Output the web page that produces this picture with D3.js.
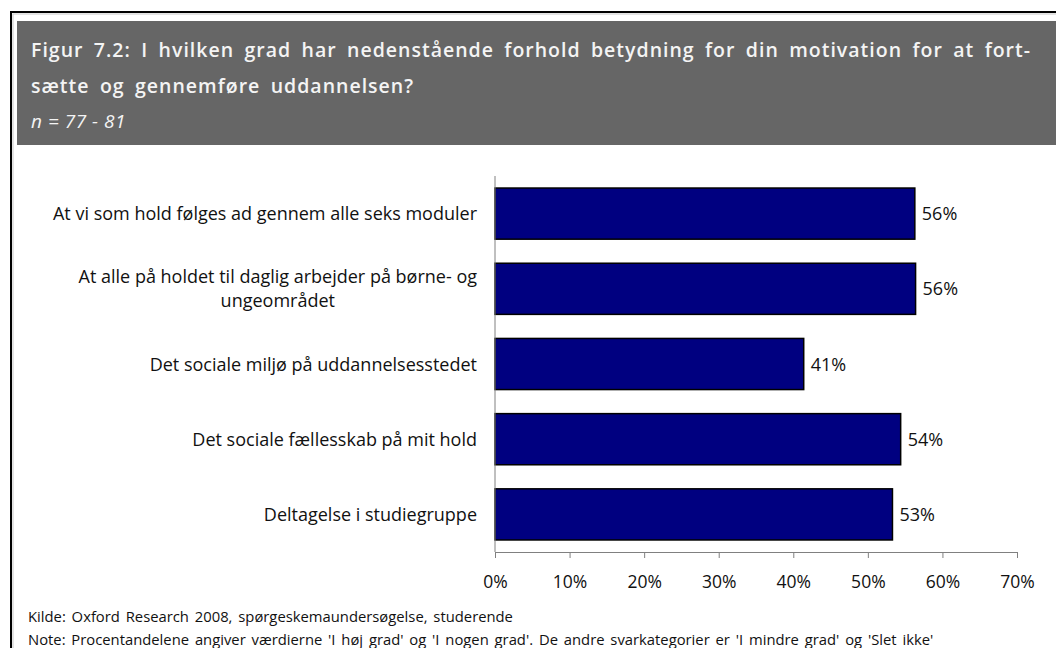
<!DOCTYPE html>
<html>
<head>
<meta charset="utf-8">
<script src="https://cdn.jsdelivr.net/npm/d3@7"></script>
<style>
  html, body { margin: 0; padding: 0; background: #fff; }
  svg { display: block; font-family: "Open Sans", Lato, sans-serif; }
</style>
</head>
<body>
<div id="chart"></div>
<script>
// chart values
const titleLines = [
  "Figur 7.2: I hvilken grad har nedenstående forhold betydning for din motivation for at fort-",
  "sætte og gennemføre uddannelsen?"
];
const subtitle = "n = 77 - 81";
const categories = [
  "At vi som hold følges ad gennem alle seks moduler",
  "At alle på holdet til daglig arbejder på børne- og\nungeområdet",
  "Det sociale miljø på uddannelsesstedet",
  "Det sociale fællesskab på mit hold",
  "Deltagelse i studiegruppe"
];
const values = [56.3, 56.4, 41.4, 54.4, 53.3];
const xTicks = [0, 10, 20, 30, 40, 50, 60, 70];
const footnotes = [
  "Kilde: Oxford Research 2008, spørgeskemaundersøgelse, studerende",
  "Note: Procentandelene angiver værdierne 'I høj grad' og 'I nogen grad'. De andre svarkategorier er 'I mindre grad' og 'Slet ikke'"
];

const width = 1056, height = 648;
const margin = { top: 176, right: 39, bottom: 96, left: 495 };

let svg = d3.select("#chart")
  .append("svg")
  .attr("width", width)
  .attr("height", height);

// outer frame (runs off the page on the right and bottom)
svg.append("rect")
  .attr("x", 11).attr("y", 12)
  .attr("width", width + 20).attr("height", height + 20)
  .attr("fill", "none")
  .attr("stroke", "#000")
  .attr("stroke-width", 2);
svg.append("rect")
  .attr("x", 13).attr("y", 14)
  .attr("width", width + 20).attr("height", height + 20)
  .attr("fill", "none")
  .attr("stroke", "#c8c8c8")
  .attr("stroke-width", 1);

// grey header band
svg.append("rect")
  .attr("x", 17).attr("y", 21)
  .attr("width", width).attr("height", 124)
  .attr("fill", "#666666");

let header = svg.append("g").attr("fill", "#f4f4f4");
let titles = header.selectAll("text.title")
  .data(titleLines)
  .enter()
  .append("text")
    .attr("class", "title")
    .attr("x", 31)
    .attr("y", (d, i) => 57 + i * 36)
    .attr("font-size", 19.5)
    .attr("font-weight", 600)
    .text(d => d);

// the original title face is wider -> spread to the same line length
let firstW = titles.node().getComputedTextLength();
let extra = Math.max(0, 999 - firstW);
let nSpaces = titleLines[0].split(" ").length - 1;
titles
  .attr("letter-spacing", extra * 0.6 / (titleLines[0].length - 1))
  .attr("word-spacing", extra * 0.4 / nSpaces);

header.append("text")
  .attr("x", 31)
  .attr("y", 128)
  .attr("font-size", 19)
  .attr("font-style", "italic")
  .attr("letter-spacing", 0.5)
  .text(subtitle);

// scales
let x = d3.scaleLinear()
  .domain([0, 70])
  .range([margin.left, width - margin.right]);

let axisY0 = height - margin.bottom; // 552

let y = d3.scaleBand()
  .domain(categories)
  .range([margin.top, axisY0])
  .paddingInner(0.32)
  .paddingOuter(0.16);

// bars
let bars = svg.append("g").selectAll("g")
  .data(values)
  .enter()
  .append("g");

bars.append("rect")
  .attr("x", x(0))
  .attr("y", (d, i) => y(categories[i]))
  .attr("width", d => x(d) - x(0))
  .attr("height", y.bandwidth())
  .attr("fill", "#000080")
  .attr("stroke", "#000")
  .attr("stroke-width", 1.5);

bars.append("text")
  .attr("x", d => x(d) + 7)
  .attr("y", (d, i) => y(categories[i]) + y.bandwidth() / 2 + 6.5)
  .attr("font-size", 18)
  .attr("fill", "#111")
  .text(d => Math.round(d) + "%");

// category labels, multi-line ones centred as a block
let labels = svg.append("g").selectAll("text")
  .data(categories)
  .enter()
  .append("text")
    .attr("font-size", 18)
    .attr("fill", "#111");

labels.each(function (d) {
  let lines = d.split("\n");
  let cy = y(d) + y.bandwidth() / 2;
  let el = d3.select(this);
  let lineH = 24;
  lines.forEach((line, i) => {
    el.append("tspan")
      .attr("y", cy + 6.5 + (i - (lines.length - 1) / 2) * lineH)
      .text(line);
  });
  if (lines.length === 1) {
    el.attr("text-anchor", "end").selectAll("tspan").attr("x", 477);
  } else {
    let maxW = d3.max(el.selectAll("tspan").nodes(), n => n.getComputedTextLength());
    el.attr("text-anchor", "middle").selectAll("tspan").attr("x", 477 - maxW / 2);
  }
});

// value axis
let xAxis = d3.axisBottom(x)
  .tickValues(xTicks)
  .tickSize(6)
  .tickPadding(18)
  .tickFormat(d => d + "%");

let gx = svg.append("g")
  .attr("transform", `translate(0,${axisY0})`)
  .call(xAxis);
gx.select(".domain").attr("stroke", "#808080");
gx.selectAll(".tick line").attr("stroke", "#808080");
gx.selectAll(".tick text")
  .attr("font-family", "'Open Sans', sans-serif")
  .attr("font-size", 17.5)
  .attr("fill", "#111");

// category axis line
svg.append("line")
  .attr("x1", x(0)).attr("x2", x(0))
  .attr("y1", margin.top).attr("y2", axisY0)
  .attr("stroke", "#808080");

// footnotes
svg.append("g").selectAll("text")
  .data(footnotes)
  .enter()
  .append("text")
    .attr("x", 28)
    .attr("y", (d, i) => 622 + i * 23)
    .attr("font-size", 14.8)
    .attr("word-spacing", 2)
    .attr("fill", "#111")
    .text(d => d);
</script>
</body>
</html>
